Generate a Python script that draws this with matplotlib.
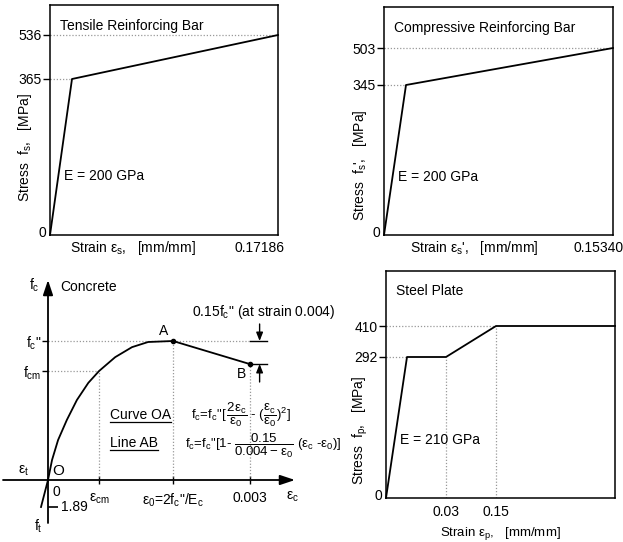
import numpy as np
import matplotlib
matplotlib.use('Agg')
import matplotlib.pyplot as plt

plt.rcParams['font.family'] = ['Liberation Sans', 'DejaVu Sans']
plt.rcParams['mathtext.default'] = 'regular'
plt.rcParams['font.size'] = 10

# ---- data ----
# tensile reinforcing bar (E = 200 GPa)
ten_stress = [0, 365, 536]
ten_strain = [0, 365 / 200e3, 0.17186]
# compressive reinforcing bar (E = 200 GPa)
com_stress = [0, 345, 503]
com_strain = [0, 345 / 200e3, 0.15340]
# steel plate (E = 210 GPa)
pl_stress = [0, 292, 292, 410, 410]
pl_strain = [0, 292 / 210e3, 0.03, 0.15, 0.25]
# concrete, points read along curve OA
eps_OA = [0, 0.00006, 0.00015, 0.00028, 0.00043, 0.0006, 0.00076, 0.001, 0.00125, 0.00149, 0.00186]
fc_OA = [0, 1.4, 2.8, 4.2, 5.6, 6.8, 7.63, 8.6, 9.3, 9.66, 9.73]
eps_t, f_t = -0.000104, -1.89
eps_cm, f_cm = 0.00076, 7.63
eps_0, fc2 = 0.00186, 9.73
eps_B, f_B = 0.003, 8.12

W, H = 623, 542
fig = plt.figure(figsize=(W / 100, H / 100), dpi=100)


def add_ax(l, t, r, b):
    return fig.add_axes([l / W, 1 - b / H, (r - l) / W, (b - t) / H])


def schematic(ax, xd, xf, yd, yf):
    # piecewise scale: the drawing is not to scale
    ax.set_xscale('function', functions=(lambda v: np.interp(v, xd, xf), lambda v: np.interp(v, xf, xd)))
    ax.set_yscale('function', functions=(lambda v: np.interp(v, yd, yf), lambda v: np.interp(v, yf, yd)))
    ax.set_xlim(xd[0], xd[-1])
    ax.set_ylim(yd[0], yd[-1])


guide = dict(color='0.6', lw=0.9, ls=(0, (1, 1.5)))


def steel(ax, strain, stress, title, elabel):
    ax.plot(strain, stress, color='k', lw=1.3, clip_on=False)
    for s in ax.spines.values():
        s.set_linewidth(1.1)
    ax.set_xticks([])
    ax.set_yticks(sorted(set(stress[1:])))
    ax.tick_params(axis='y', direction='out', length=5, width=1, pad=1, labelsize=10)
    ax.text(0.045, 0.91, title, transform=ax.transAxes, fontsize=10, va='center')
    ax.text(0.06, 0.255, elabel, transform=ax.transAxes, fontsize=10, va='center')
    ax.text(-0.015, 0.01, '0', transform=ax.transAxes, ha='right', va='center', fontsize=10)


# ---- tensile bar ----
ax1 = add_ax(50, 5, 278, 235)
schematic(ax1, ten_strain, [0, 22 / 228, 1], ten_stress + [640], [0, 156 / 230, 200 / 230, 1])
ax1.plot([0, ten_strain[-1]], [ten_stress[2]] * 2, **guide)
ax1.plot([0, ten_strain[1]], [ten_stress[1]] * 2, **guide)
steel(ax1, ten_strain, ten_stress, 'Tensile Reinforcing Bar', 'E = 200 GPa')
ax1.text(0.088, -0.058, r'Strain $\varepsilon_s$,   [mm/mm]', transform=ax1.transAxes, va='center')
ax1.text(1.03, -0.058, '0.17186', transform=ax1.transAxes, ha='right', va='center')
fig.text(25 / W, 1 - 148 / H, r'Stress  $f_s$,   [MPa]', rotation=90, ha='center', va='center')

# ---- compressive bar ----
ax2 = add_ax(384, 7, 613, 235)
schematic(ax2, com_strain, [0, 22 / 229, 1], com_stress + [600], [0, 150 / 228, 187 / 228, 1])
ax2.plot([0, com_strain[-1]], [com_stress[2]] * 2, **guide)
ax2.plot([0, com_strain[1]], [com_stress[1]] * 2, **guide)
steel(ax2, com_strain, com_stress, 'Compressive Reinforcing Bar', 'E = 200 GPa')
ax2.text(0.115, -0.058, r"Strain $\varepsilon_s$',   [mm/mm]", transform=ax2.transAxes, va='center')
ax2.text(1.045, -0.058, '0.15340', transform=ax2.transAxes, ha='right', va='center')
fig.text(360 / W, 1 - 165 / H, r"Stress  $f_s$',   [MPa]", rotation=90, ha='center', va='center')

# ---- steel plate ----
ax4 = add_ax(386, 271, 615, 498)
schematic(ax4, pl_strain, [0, 21 / 229, 60 / 229, 110 / 229, 1], [0, 292, 410, 500], [0, 141 / 227, 172 / 227, 1])
ax4.plot([0, pl_strain[3]], [pl_stress[3]] * 2, **guide)
ax4.plot([0, pl_strain[1]], [pl_stress[1]] * 2, **guide)
ax4.plot([pl_strain[2]] * 2, [0, pl_stress[2]], **guide)
ax4.plot([pl_strain[3]] * 2, [0, pl_stress[3]], **guide)
steel(ax4, pl_strain, pl_stress, 'Steel Plate', 'E = 210 GPa')
ax4.set_xticks([pl_strain[2], pl_strain[3]])
ax4.set_xticklabels(['0.03', '0.15'])
ax4.tick_params(axis='x', length=0, pad=5, labelsize=10)
ax4.text(0.5, -0.158, r'Strain $\varepsilon_p$,   [mm/mm]', transform=ax4.transAxes, ha='center', va='center',
         fontsize=9.5)
fig.text(360 / W, 1 - 430 / H, r'Stress  $f_p$,   [MPa]', rotation=90, ha='center', va='center')

# ---- concrete ----
k, m = 1.488e-5, 0.07   # strain per pixel, MPa per pixel of the sketch
ax3 = add_ax(0, 270, 310, 540)
ax3.set_xlim(-48 * k, 262 * k)
ax3.set_ylim(-60 * m, 210 * m)
for s in ax3.spines.values():
    s.set_visible(False)
ax3.spines['left'].set_position(('data', 0))
ax3.spines['bottom'].set_position(('data', 0))
arw = dict(arrowstyle='-|>,head_length=0.9,head_width=0.3', lw=1.3, color='k', shrinkA=0, shrinkB=0)
ax3.annotate('', xy=(247 * k, 0), xytext=(-45 * k, 0), arrowprops=arw)
ax3.annotate('', xy=(0, 200 * m), xytext=(0, -43 * m), arrowprops=arw)

ax3.plot([0, eps_B], [fc2, fc2], **guide)
ax3.plot([0, eps_cm], [f_cm, f_cm], **guide)
ax3.plot([eps_cm, eps_cm], [0, f_cm], **guide)
ax3.plot([eps_0, eps_0], [0, fc2], **guide)
ax3.plot([eps_B, eps_B], [0, f_B], **guide)

ax3.plot([eps_t] + eps_OA, [f_t] + fc_OA, color='k', lw=1.3)
ax3.plot([eps_0, eps_B], [fc2, f_B], color='k', lw=1.3)
ax3.plot([eps_0, eps_B], [fc2, f_B], 'o', color='k', ms=3)
ax3.plot([0], [f_t], marker=1, color='k', ms=7, mew=1.2)

ax3.set_yticks([f_cm, fc2])
ax3.set_yticklabels([r'$f_{cm}$', r'$f_c$"'])
ax3.tick_params(axis='y', direction='out', length=4, width=1, pad=1, labelsize=10)
ax3.set_xticks([eps_cm, eps_0, eps_B])
ax3.set_xticklabels([r'$\varepsilon_{cm}$', r'$\varepsilon_0$=2$f_c$"/$E_c$', '0.003'])
ax3.tick_params(axis='x', direction='inout', length=6, width=1, pad=5, labelsize=10)

op = dict(textcoords='offset pixels', ha='center', va='center', fontsize=10)
ax3.annotate('0', (0, 0), xytext=(8, -12), **op)
ax3.annotate('O', (0, 0), xytext=(10, 9), fontsize=11, textcoords='offset pixels', ha='center', va='center')
ax3.annotate(r'$\varepsilon_t$', (eps_t, 0), xytext=(-18, 9), **op)
ax3.annotate('1.89', (0, f_t), xytext=(26, 0), **op)
ax3.annotate(r'$f_t$', (eps_t, f_t), xytext=(-3, -19), **op)
ax3.annotate(r'$f_c$', (0, 200 * m), xytext=(-14, -5), **op)
ax3.annotate('Concrete', (0, 200 * m), xytext=(12, -7), textcoords='offset pixels', ha='left', va='center')
ax3.annotate(r'$\varepsilon_c$', (247 * k, 0), xytext=(-3, -17), **op)
ax3.annotate('A', (eps_0, fc2), xytext=(-9, 10), **op)
ax3.annotate('B', (eps_B, f_B), xytext=(-8, -10), **op)

# 0.15 fc'' dimension marks
bar = [eps_B, eps_B + 17 * k]
xm = eps_B + 10 * k
ax3.plot(bar, [fc2, fc2], color='k', lw=1)
ax3.plot(bar, [f_B, f_B], color='k', lw=1)
dim = dict(arrowstyle='-|>,head_length=0.5,head_width=0.2', lw=1, color='k', shrinkA=0, shrinkB=0)
ax3.annotate('', xy=(xm, fc2), xytext=(xm, fc2 + 17 * m), arrowprops=dim)
ax3.annotate('', xy=(xm, f_B), xytext=(xm, f_B - 18 * m), arrowprops=dim)
ax3.text(0.619, 0.844, r'0.15$f_c$" (at strain 0.004)', transform=ax3.transAxes, va='center')

t1 = ax3.text(0.355, 0.463, 'Curve OA', transform=ax3.transAxes, va='center')
t2 = ax3.text(0.355, 0.359, 'Line AB', transform=ax3.transAxes, va='center')
ax3.text(0.617, 0.463, r'$f_c$=$f_c$"[$\,\dfrac{2\varepsilon_c}{\varepsilon_0}$ - ($\dfrac{\varepsilon_c}{\varepsilon_0})^2$]',
         transform=ax3.transAxes, va='center', fontsize=9.5)
ax3.text(0.597, 0.348, r'$f_c$=$f_c$"[1- $\dfrac{0.15}{0.004-\varepsilon_0}$ ($\varepsilon_c$ -$\varepsilon_0$)]',
         transform=ax3.transAxes, va='center', fontsize=9.5)

fig.canvas.draw()
for t in (t1, t2):
    bb = t.get_window_extent()
    inv = ax3.transData.inverted()
    (x0, y0), (x1, _) = inv.transform([(bb.x0, bb.y0), (bb.x1, bb.y0)])
    ax3.plot([x0, x1], [y0, y0], color='k', lw=0.9)

fig.savefig('out.png', dpi=100)
